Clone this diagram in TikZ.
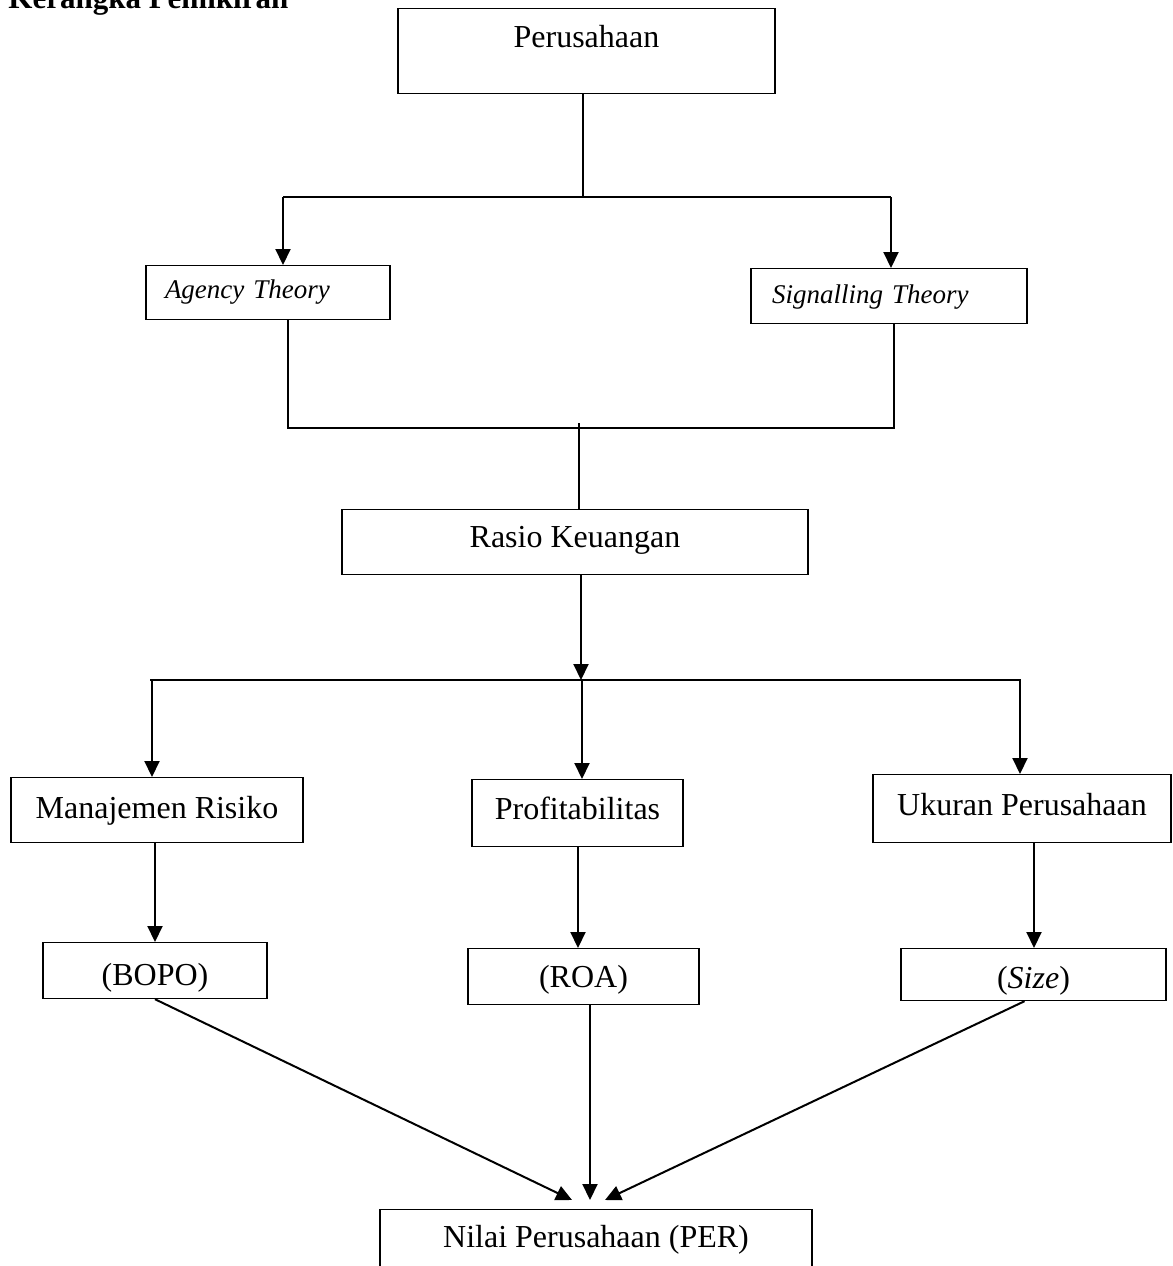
\documentclass[tikz,border=0pt]{standalone}
\usepackage{fontspec}
\setmainfont{Liberation Serif}
\usetikzlibrary{arrows.meta}

\tikzset{
    kotak/.style={draw, line width=0.6pt, inner xsep=0pt, inner ysep=0pt, anchor=north,
        font=\fontsize{16}{19}\selectfont},
    teori/.style={kotak, align=left, font=\fontsize{13.5}{16}\selectfont\itshape},
    garis/.style={line width=0.75pt},
    panah/.style={line width=1pt, -{Triangle[length=8pt,width=7.5pt]}},
}

\begin{document}
\begin{tikzpicture}[x=0.5pt, y=-0.5pt]
    \useasboundingbox (0,0) rectangle (1173,1266);
    \clip (0,0) rectangle (1173,1266);

    % Judul (terpotong di tepi atas)
    \node[anchor=base west, inner sep=0pt, font=\fontsize{15.5}{18}\selectfont\bfseries] (judul) at (8,8) {Kerangka Pemikiran};

    % Kotak
    \node[kotak, minimum width=188.5pt, text height=19.5pt, text depth=23pt] (perus) at (586.5,8) {Perusahaan};
    \node[teori, text width=103pt, inner xsep=9.5pt, text height=16.5pt, text depth=10.5pt] (agency) at (268,265) {Agency Theory};
    \node[teori, text width=117pt, inner xsep=10.5pt, text height=17.5pt, text depth=10pt] (signal) at (889,268) {Signalling Theory};
    \node[kotak, minimum width=233pt, text height=19pt, text depth=13.5pt] (rasio) at (575,509) {Rasio Keuangan};
    \node[kotak, minimum width=146pt, text height=20.5pt, text depth=12pt] (manaj) at (157,777) {Manajemen Risiko};
    \node[kotak, minimum width=105.5pt, text height=20pt, text depth=13.5pt] (profit) at (577.5,779) {Profitabilitas};
    \node[kotak, minimum width=149pt, text height=20.5pt, text depth=13.5pt] (ukuran) at (1022,774) {Ukuran Perusahaan};
    \node[kotak, minimum width=112pt, text height=21.5pt, text depth=6.5pt] (bopo) at (155,942) {(BOPO)};
    \node[kotak, minimum width=115.5pt, text height=19.5pt, text depth=8.5pt] (roa) at (583.5,948) {(ROA)};
    \node[kotak, minimum width=132.5pt, text height=20pt, text depth=6pt] (size) at (1033.5,948) {(\textit{Size})};
    \node[kotak, minimum width=216pt, text height=19pt, text depth=25pt] (nilai) at (596,1209) {Nilai Perusahaan (PER)};

    % Perusahaan ke teori
    \coordinate (c1) at (583,197);
    \coordinate (c1L) at (283,197);
    \coordinate (c1R) at (891,197);
    \draw[garis] (perus.south -| c1) -- (c1);
    \draw[garis] (c1L) -- (c1R);
    \draw[panah] (c1L) -- (c1L |- agency.north);
    \draw[panah] (c1R) -- (c1R |- signal.north);

    % Teori ke rasio keuangan
    \coordinate (c2L) at (288,428);
    \coordinate (c2R) at (894,428);
    \coordinate (c2) at (579,423);
    \draw[garis] (c2L |- agency.south) -- (c2L) -- (c2R) -- (c2R |- signal.south);
    \draw[garis] (c2) -- (c2 |- rasio.north);

    % Rasio keuangan ke variabel
    \coordinate (c3) at (581,680);
    \coordinate (c3L) at (150,680);
    \coordinate (c3R) at (1021,680);
    \draw[panah] (c3 |- rasio.south) -- (c3);
    \draw[garis] (c3L) -- (c3R);
    \foreach \x/\nm in {152/manaj, 582/profit, 1020/ukuran} {
        \coordinate (t) at (\x,680);
        \draw[panah] (t) -- (t |- \nm.north);
    }

    % Variabel ke indikator
    \foreach \x/\a/\b in {155/manaj/bopo, 578/profit/roa, 1034/ukuran/size} {
        \coordinate (t) at (\x,0);
        \draw[panah] (t |- \a.south) -- (t |- \b.north);
    }

    % Indikator ke nilai perusahaan
    \coordinate (inL) at (572,1200);
    \coordinate (inM) at (590,1200);
    \coordinate (inR) at (605,1200);
    \draw[panah] (bopo.south) -- (inL);
    \draw[panah] (inM |- roa.south) -- (inM);
    \draw[panah] ([xshift=-4.5pt]size.south) -- (inR);
\end{tikzpicture}
\end{document}
